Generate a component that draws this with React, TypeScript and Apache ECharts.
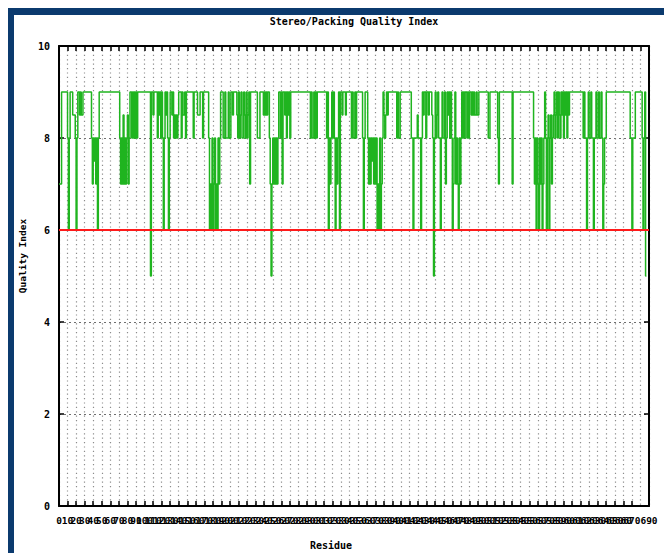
import React, { useEffect, useRef } from "react";
import * as echarts from "echarts";

const TITLE = "Stereo/Packing Quality Index";
const X_NAME = "Residue";
const Y_NAME = "Quality Index";
const X_MIN = 0;
const X_MAX = 690;
const X_STEP = 10;
const Y_MIN = 0;
const Y_MAX = 10;
const Y_STEP = 2;
const THRESHOLD = 6;
const RESIDUE_COUNT = 688; // residues 0..687
const TOP_LEVEL = 9; // the line sits at 9 except at the residues listed below

// residues whose score is below the top level: [residue, score]
const dips: [number, number][] = [
  [0, 7], [1, 7], [2, 7],
  [10, 8], [11, 6], [12, 8],
  [16, 8.5], [17, 8.5], [18, 8.5],
  [19, 8], [20, 6], [21, 8],
  [24, 8.5], [26, 8.5], [27, 8.5],
  [38, 8], [39, 7], [40, 8], [41, 7.5], [42, 8], [43, 7],
  [44, 8], [45, 6], [46, 8],
  [71, 8], [72, 7], [73, 8], [74, 7], [75, 8.5], [76, 7], [77, 8], [78, 7], [79, 8], [80, 8.5], [81, 7], [82, 8],
  [85, 8], [87, 8], [89, 8], [91, 8],
  [107, 5],
  [110, 8.5],
  [115, 8], [117, 8.5], [119, 8], [121, 8], [122, 6], [123, 8], [125, 8.5], [127, 8], [128, 6], [129, 8], [132, 8.5],
  [134, 8], [135, 8.5], [136, 8], [137, 8.5], [138, 8], [139, 8.5],
  [143, 8], [145, 8.5], [146, 8.5], [148, 8],
  [157, 8], [162, 8.5], [163, 8.5], [164, 8.5], [168, 8],
  [175, 8], [176, 6], [177, 7], [178, 6], [179, 8], [180, 6], [181, 7], [182, 8], [183, 6], [184, 7], [185, 6], [186, 8], [187, 7], [188, 8],
  [192, 8], [193, 8], [195, 8], [196, 8], [197, 8], [199, 8], [200, 8],
  [203, 8.5],
  [208, 8.5], [209, 8], [211, 8], [212, 8.5], [214, 8], [215, 8], [217, 8.5], [218, 8], [220, 8], [221, 8.5], [223, 7],
  [232, 8], [233, 8], [234, 8],
  [239, 8.5], [241, 8.5], [243, 8.5],
  [246, 8], [247, 7], [248, 5], [249, 7], [250, 8], [251, 7], [252, 8], [253, 7], [254, 8], [255, 7], [256, 8],
  [259, 8], [261, 7],
  [264, 8.5], [266, 8], [268, 8.5], [270, 8],
  [294, 8], [296, 8], [297, 8], [299, 8], [301, 8],
  [313, 8], [315, 6], [316, 8], [317, 7], [318, 8],
  [320, 8], [322, 8], [323, 6], [324, 8], [325, 7], [326, 8], [328, 6],
  [331, 8.5], [335, 8.5],
  [342, 8], [344, 8], [345, 8], [347, 8],
  [355, 8], [356, 6], [357, 8],
  [361, 8], [362, 7], [363, 8], [364, 7], [365, 8], [366, 7.5], [367, 8], [368, 7], [369, 8], [370, 7], [371, 8], [372, 6], [373, 7], [374, 6], [375, 8], [376, 6], [377, 7], [378, 8],
  [380, 8.5], [381, 8], [382, 8.5], [384, 8.5],
  [395, 8], [397, 8], [398, 8],
  [412, 8], [413, 8], [414, 6], [415, 8], [416, 8], [417, 8], [418, 8], [419, 8.5], [420, 8], [421, 8], [422, 8], [423, 6], [424, 8],
  [426, 8.5], [429, 8], [432, 8.5], [436, 8.5], [437, 8], [438, 5], [439, 8], [441, 8], [442, 8.5], [444, 8], [445, 8], [446, 6], [447, 8], [449, 8],
  [450, 8], [452, 7], [453, 8], [455, 8.5], [457, 8], [459, 8], [460, 6], [461, 7], [462, 8], [464, 7], [465, 8], [466, 7], [467, 6], [468, 8], [469, 7], [470, 8], [472, 8],
  [474, 8], [477, 8], [479, 8], [482, 8.5],
  [484, 8.5], [486, 8.5], [487, 8.5], [489, 8.5], [490, 8.5],
  [502, 8], [503, 8],
  [513, 8], [514, 7],
  [530, 7],
  [555, 8], [556, 7], [557, 8], [558, 6], [559, 8], [560, 7], [561, 6], [562, 8], [563, 7], [564, 8], [565, 6], [566, 7], [567, 8], [569, 8], [570, 6], [571, 8],
  [572, 8.5], [573, 6], [574, 8], [575, 8.5], [576, 7], [577, 8], [578, 8.5], [580, 8], [581, 8.5], [583, 8], [585, 8.5], [586, 8], [588, 8.5], [590, 8], [592, 8.5], [594, 8], [596, 8.5],
  [613, 8], [615, 8], [616, 8], [617, 6], [618, 8], [620, 8], [621, 8],
  [623, 8], [624, 8], [625, 6], [626, 8], [627, 8], [629, 8], [630, 8], [632, 8], [633, 8], [635, 8], [636, 6], [637, 7], [638, 8], [639, 8],
  [668, 8], [669, 8], [670, 6], [671, 8], [672, 8], [673, 8],
  [682, 8], [683, 6], [684, 8], [686, 5], [687, 5],
];

const MONO = "'DejaVu Sans Mono', 'Liberation Mono', monospace";

export default function App() {
  const ref = useRef<HTMLDivElement>(null);

  useEffect(() => {
    if (!ref.current) return;
    const chart = echarts.init(ref.current, undefined, { renderer: "svg" });

    const dipMap = new Map<number, number>(dips);
    const points: [number, number][] = [];
    for (let r = 0; r < RESIDUE_COUNT; r++) {
      points.push([r, dipMap.has(r) ? (dipMap.get(r) as number) : TOP_LEVEL]);
    }

    const axisLine = { show: true, onZero: false, lineStyle: { color: "#000", width: 2 } };
    const tick = { show: true, inside: true, length: 5, lineStyle: { color: "#000", width: 1.5 } };

    chart.setOption({
      animation: false,
      backgroundColor: "#fff",
      grid: { left: 59, right: 15, top: 46, bottom: 47, containLabel: false },
      xAxis: [
        {
          type: "value",
          min: X_MIN,
          max: X_MAX,
          interval: X_STEP,
          position: "bottom",
          axisLine,
          axisTick: tick,
          axisLabel: {
            show: true,
            color: "#000",
            fontFamily: MONO,
            fontWeight: "bold",
            fontSize: 9.5,
            margin: 9,
            hideOverlap: false,
            showMinLabel: true,
            showMaxLabel: true,
          },
          splitLine: { show: true, lineStyle: { color: "#8c8c8c", width: 1.2, type: [1.2, 3.2] } },
        },
        {
          type: "value",
          min: X_MIN,
          max: X_MAX,
          interval: X_STEP,
          position: "top",
          axisLine,
          axisTick: tick,
          axisLabel: { show: false },
          splitLine: { show: false },
        },
      ],
      yAxis: [
        {
          type: "value",
          min: Y_MIN,
          max: Y_MAX,
          interval: Y_STEP,
          position: "left",
          axisLine,
          axisTick: tick,
          axisLabel: {
            color: "#000",
            fontFamily: MONO,
            fontWeight: "bold",
            fontSize: 10,
            margin: 9,
          },
          splitLine: { show: true, lineStyle: { color: "#6e6e6e", width: 1, type: [2, 3] } },
        },
        {
          type: "value",
          min: Y_MIN,
          max: Y_MAX,
          interval: Y_STEP,
          position: "right",
          axisLine,
          axisTick: tick,
          axisLabel: { show: false },
          splitLine: { show: false },
        },
      ],
      series: [
        {
          type: "line",
          name: "Quality",
          xAxisIndex: 0,
          yAxisIndex: 0,
          data: points,
          step: "end",
          symbol: "none",
          silent: true,
          lineStyle: { color: "#1fb41f", width: 1.5 },
          z: 3,
        },
        {
          type: "line",
          name: "Threshold",
          xAxisIndex: 0,
          yAxisIndex: 0,
          data: [
            [X_MIN, THRESHOLD],
            [X_MAX, THRESHOLD],
          ],
          symbol: "none",
          silent: true,
          lineStyle: { color: "#ff1a1a", width: 2 },
          z: 4,
        },
      ],
      graphic: [
        { type: "rect", left: 8, top: 8, shape: { x: 0, y: 0, width: 656, height: 7 }, style: { fill: "#0b3a6e" }, z: 10 },
        { type: "rect", left: 8, top: 8, shape: { x: 0, y: 0, width: 6, height: 545 }, style: { fill: "#0b3a6e" }, z: 10 },
        {
          type: "text",
          x: 354,
          y: 21,
          style: {
            text: TITLE,
            font: `bold 10px ${MONO}`,
            fill: "#000",
            textAlign: "center",
            textVerticalAlign: "middle",
            align: "center",
            verticalAlign: "middle",
          },
          z: 10,
        },
        {
          type: "text",
          x: 331,
          y: 545,
          style: {
            text: X_NAME,
            font: `bold 10px ${MONO}`,
            fill: "#000",
            textAlign: "center",
            textVerticalAlign: "middle",
            align: "center",
            verticalAlign: "middle",
          },
          z: 10,
        },
        {
          type: "text",
          x: 22,
          y: 256,
          rotation: Math.PI / 2,
          style: {
            text: Y_NAME,
            font: `bold 9.5px ${MONO}`,
            fill: "#000",
            textAlign: "center",
            textVerticalAlign: "middle",
            align: "center",
            verticalAlign: "middle",
          },
          z: 10,
        },
      ],
    });

    return () => chart.dispose();
  }, []);

  return (
    <div
      ref={ref}
      style={{ position: "absolute", left: 0, top: 0, width: 664, height: 553 }}
    />
  );
}
